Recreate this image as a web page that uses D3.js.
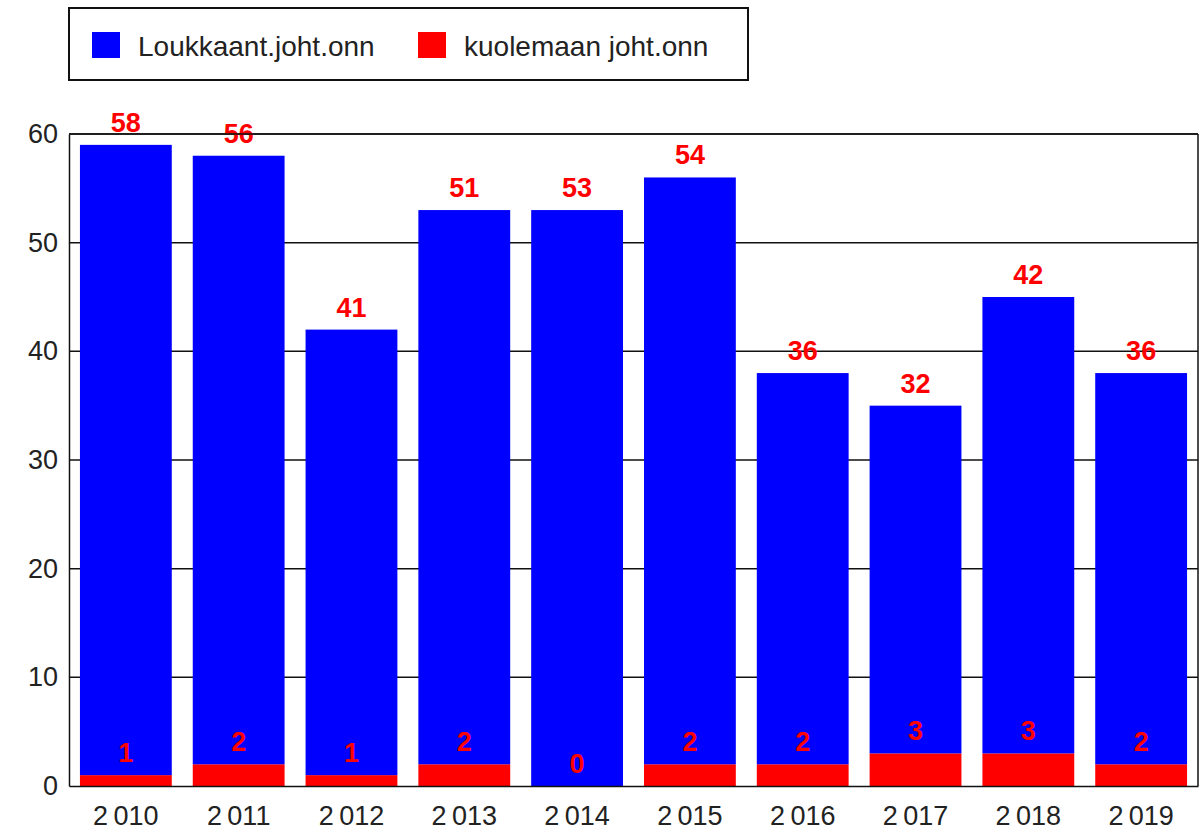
<!DOCTYPE html>
<html>
<head>
<meta charset="utf-8">
<script src="https://cdn.jsdelivr.net/npm/d3@7"></script>
<style>
  body { margin: 0; background: #fff; }
  text { font-family: "Liberation Sans", Arial, sans-serif; }
</style>
</head>
<body>
<svg id="chart" width="1199" height="832"></svg>
<script>
// values
var years = ["2010", "2011", "2012", "2013", "2014", "2015", "2016", "2017", "2018", "2019"];
var yearLabels = ["2\u2009010", "2\u2009011", "2\u2009012", "2\u2009013", "2\u2009014",
                  "2\u2009015", "2\u2009016", "2\u2009017", "2\u2009018", "2\u2009019"];
var injured = [58, 56, 41, 51, 53, 54, 36, 32, 42, 36];   // Loukkaant.joht.onn
var killed = [1, 2, 1, 2, 0, 2, 2, 3, 3, 2];              // kuolemaan joht.onn
var seriesNames = ["Loukkaant.joht.onn", "kuolemaan joht.onn"];
var yTicks = [0, 10, 20, 30, 40, 50, 60];

var svg = d3.select("#chart"),
    margin = {top: 134, right: 1, bottom: 46, left: 69},
    width = svg.attr("width") - margin.left - margin.right,
    height = svg.attr("height") - margin.top - margin.bottom;

var blue = "#0000ff", red = "#ff0000";

var rows = years.map(function(y, i) {
  return {year: y, killed: killed[i], injured: injured[i]};
});

// red sits at the bottom, blue on top of it
var stack = d3.stack().keys(["killed", "injured"]);
var layers = stack(rows);

var x = d3.scaleBand().domain(years)
    .range([margin.left, margin.left + width])
    .paddingInner(0.186).paddingOuter(0.097);
var y = d3.scaleLinear().domain([0, 60]).range([margin.top + height, margin.top]);

// grid lines
svg.append("g").selectAll("line")
  .data(yTicks.filter(function(t) { return t > 0; }))
  .enter().append("line")
    .attr("x1", margin.left).attr("x2", margin.left + width)
    .attr("y1", function(d) { return y(d); }).attr("y2", function(d) { return y(d); })
    .attr("stroke", "#111").attr("stroke-width", 1.5);

// right border
svg.append("line")
  .attr("x1", margin.left + width).attr("x2", margin.left + width)
  .attr("y1", y(60)).attr("y2", y(0))
  .attr("stroke", "#111").attr("stroke-width", 1.5);

var colours = {killed: red, injured: blue};

svg.append("g").selectAll("g")
  .data(layers)
  .enter().append("g")
    .attr("fill", function(d) { return colours[d.key]; })
  .selectAll("rect")
  .data(function(d) { return d; })
  .enter().append("rect")
    .attr("x", function(d) { return x(d.data.year); })
    .attr("width", x.bandwidth())
    .attr("y", function(d) { return y(d[1]); })
    .attr("height", function(d) { return y(d[0]) - y(d[1]); });

// value labels, just above each segment
svg.append("g").selectAll("g")
  .data(layers)
  .enter().append("g")
  .selectAll("text")
  .data(function(l) { return l.map(function(d) { return {key: l.key, d: d}; }); })
  .enter().append("text")
    .attr("x", function(e) { return x(e.d.data.year) + x.bandwidth() / 2; })
    .attr("y", function(e) { return y(e.d[1]) - 13; })
    .attr("text-anchor", "middle")
    .attr("fill", red)
    .style("font-size", "27px")
    .style("font-weight", "bold")
    .text(function(e) { return e.d.data[e.key]; });

// axes
var yAxis = svg.append("g")
    .attr("transform", "translate(" + margin.left + ",0)")
    .call(d3.axisLeft(y).tickValues(yTicks).tickSize(0).tickPadding(11));
yAxis.select(".domain").attr("stroke", "#111").attr("stroke-width", 1.5);
yAxis.selectAll(".tick text")
    .attr("fill", "#222")
    .style("font-size", "27px")
    .style("font-family", "'Liberation Sans', Arial, sans-serif");

var xAxis = svg.append("g")
    .attr("transform", "translate(0," + (margin.top + height) + ")")
    .call(d3.axisBottom(x).tickSize(0).tickPadding(20)
      .tickFormat(function(d, i) { return yearLabels[i]; }));
xAxis.select(".domain").attr("stroke", "#111").attr("stroke-width", 1.5);
xAxis.selectAll(".tick text")
    .attr("fill", "#222")
    .style("font-size", "27px")
    .style("font-family", "'Liberation Sans', Arial, sans-serif");

// top border over everything
svg.append("line")
  .attr("x1", margin.left).attr("x2", margin.left + width)
  .attr("y1", y(60)).attr("y2", y(60))
  .attr("stroke", "#111").attr("stroke-width", 1.5);

// legend
var legend = svg.append("g");
legend.append("rect")
  .attr("x", 69).attr("y", 8).attr("width", 679).attr("height", 72)
  .attr("fill", "#fff").attr("stroke", "#111").attr("stroke-width", 2);

var legendItems = [
  {name: seriesNames[0], colour: blue, x: 92},
  {name: seriesNames[1], colour: red, x: 418}
];
var item = legend.selectAll(".item")
  .data(legendItems)
  .enter().append("g")
    .attr("class", "item")
    .attr("transform", function(d) { return "translate(" + d.x + ",32)"; });
item.append("rect")
  .attr("width", 28).attr("height", 26)
  .attr("fill", function(d) { return d.colour; });
item.append("text")
  .attr("x", 46).attr("y", 24)
  .attr("fill", "#222")
  .style("font-size", "28px")
  .text(function(d) { return d.name; });
</script>
</body>
</html>
